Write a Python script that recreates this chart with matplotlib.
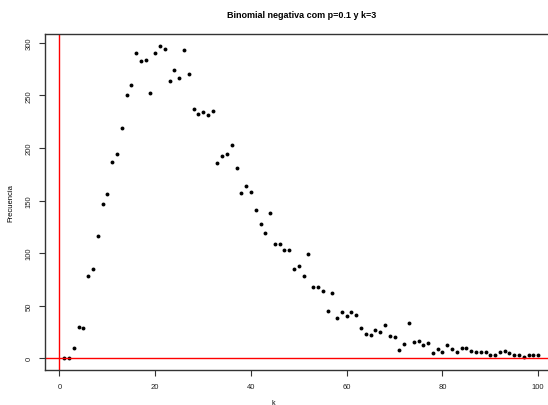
import numpy as np
import matplotlib.pyplot as plt

plt.rcParams['font.family'] = ['Liberation Sans', 'DejaVu Sans']

k = np.arange(1, 101)
frecuencia = [
    0, 0, 10, 30, 29, 78, 85, 116, 147, 156,
    187, 194, 219, 250, 260, 290, 283, 284, 252, 290,
    297, 294, 264, 274, 267, 293, 270, 237, 232, 234,
    231, 235, 186, 192, 194, 203, 181, 157, 164, 158,
    141, 128, 119, 138, 109, 109, 103, 103, 85, 88,
    78, 99, 68, 68, 64, 45, 62, 38, 44, 40,
    44, 41, 29, 23, 22, 27, 25, 31, 21, 20,
    8, 13, 33, 15, 16, 12, 14, 5, 9, 6,
    12, 9, 6, 10, 10, 7, 6, 6, 6, 3,
    3, 6, 7, 5, 3, 3, 1, 3, 3, 3,
]
xticks = [0, 20, 40, 60, 80, 100]
yticks = [0, 50, 100, 150, 200, 250, 300]

fig = plt.figure(figsize=(5.48, 4.06), dpi=100)
ax = fig.add_axes([0.0827, 0.085, 0.934, 0.8296])

ax.plot(k, frecuencia, 'o', color='black', markersize=2.8, markeredgewidth=0)
ax.axvline(0, color='red', linewidth=1)
ax.axhline(0, color='red', linewidth=1)

# R style default ranges (4% padding)
xr = k.max() - k.min()
ax.set_xlim(k.min() - 0.04 * xr, k.max() + 0.04 * xr)
yr = max(frecuencia) - min(frecuencia)
ax.set_ylim(min(frecuencia) - 0.04 * yr, max(frecuencia) + 0.04 * yr)

ax.set_xticks(xticks)
ax.set_yticks(yticks)
ax.tick_params(direction='out', length=4, width=0.8, labelsize=5.5, pad=5,
               colors='#333333', labelcolor='#222222')
for lab in ax.get_yticklabels():
    lab.set_rotation(90)
    lab.set_va('center')
for s in ax.spines.values():
    s.set_color('#333333')
    s.set_linewidth(1)

ax.set_title('Binomial negativa com p=0.1 y k=3', fontsize=6.5, fontweight='bold', pad=12)
ax.set_ylabel('Frecuencia', fontsize=5.5, labelpad=8)
ax.set_xlabel('k', fontsize=5)
# x label sits near the bottom edge, left of the axes centre as in the reference
ax.xaxis.set_label_coords((273 - 45.3) / 512, -0.085)

fig.savefig('out.png', dpi=100)
